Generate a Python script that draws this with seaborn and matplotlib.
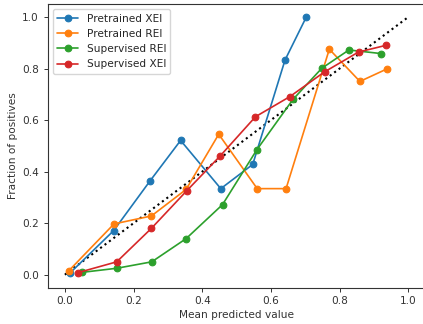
import numpy as np
import pandas as pd
import matplotlib
matplotlib.use("Agg")
import matplotlib.pyplot as plt
import seaborn as sns

# -----------------------------
# Calibration curves
# -----------------------------
pre_xei_x = [0.016, 0.142, 0.248, 0.337, 0.454, 0.547, 0.641, 0.703]
pre_xei_y = [0.008, 0.171, 0.364, 0.521, 0.334, 0.428, 0.833, 1.000]

pre_rei_x = [0.012, 0.143, 0.252, 0.353, 0.448, 0.560, 0.644, 0.770, 0.859, 0.937]
pre_rei_y = [0.016, 0.197, 0.228, 0.331, 0.545, 0.334, 0.334, 0.875, 0.750, 0.798]

sup_rei_x = [0.049, 0.151, 0.253, 0.353, 0.459, 0.559, 0.664, 0.748, 0.827, 0.921]
sup_rei_y = [0.009, 0.025, 0.050, 0.140, 0.272, 0.485, 0.680, 0.801, 0.872, 0.858]

sup_xei_x = [0.038, 0.151, 0.252, 0.355, 0.453, 0.555, 0.655, 0.756, 0.855, 0.935]
sup_xei_y = [0.008, 0.050, 0.180, 0.326, 0.462, 0.613, 0.691, 0.787, 0.864, 0.890]

labels = ["Pretrained XEI", "Pretrained REI", "Supervised REI", "Supervised XEI"]
curves = [(pre_xei_x, pre_xei_y), (pre_rei_x, pre_rei_y),
          (sup_rei_x, sup_rei_y), (sup_xei_x, sup_xei_y)]

sns.set_style("ticks")
plt.rcParams["font.family"] = ["DejaVu Sans"]
plt.rcParams["font.size"] = 7.6
plt.rcParams["xtick.major.size"] = 2.7
plt.rcParams["ytick.major.size"] = 2.7
plt.rcParams["xtick.major.width"] = 0.7
plt.rcParams["ytick.major.width"] = 0.7
plt.rcParams["axes.linewidth"] = 0.8
plt.rcParams["axes.edgecolor"] = "#333333"
plt.rcParams["xtick.color"] = "#333333"
plt.rcParams["ytick.color"] = "#333333"
plt.rcParams["xtick.labelcolor"] = "#333333"
plt.rcParams["ytick.labelcolor"] = "#333333"
plt.rcParams["axes.labelcolor"] = "#333333"

fig = plt.figure(figsize=(4.23, 3.24), dpi=100)
ax = fig.add_axes([47.7 / 423, 1 - 287.6 / 324, (425.5 - 47.7) / 423, (287.6 - 4.1) / 324])

# perfectly calibrated reference
ax.plot([0, 1], [0, 1], "k:", linewidth=1.5)

colors = sns.color_palette("tab10")
for i, (name, (xs, ys)) in enumerate(zip(labels, curves)):
    df = pd.DataFrame({"pred": xs, "frac": ys})
    sns.lineplot(data=df, x="pred", y="frac", ax=ax, color=colors[i],
                 linewidth=1.2, marker="o", markersize=4.8,
                 markeredgecolor=colors[i], markeredgewidth=0.8,
                 estimator=None, sort=False, label=name)

ax.set_xlim(-0.05, 1.05)
ax.set_ylim(-0.05, 1.05)
ax.set_xticks(np.arange(0, 1.01, 0.2))
ax.set_yticks(np.arange(0, 1.01, 0.2))
ax.set_xlabel("Mean predicted value", labelpad=2.6)
ax.set_ylabel("Fraction of positives", labelpad=3)
ax.legend(loc="upper left")
for s in ax.spines.values():
    s.set_visible(True)

fig.savefig("out.png", dpi=100)
